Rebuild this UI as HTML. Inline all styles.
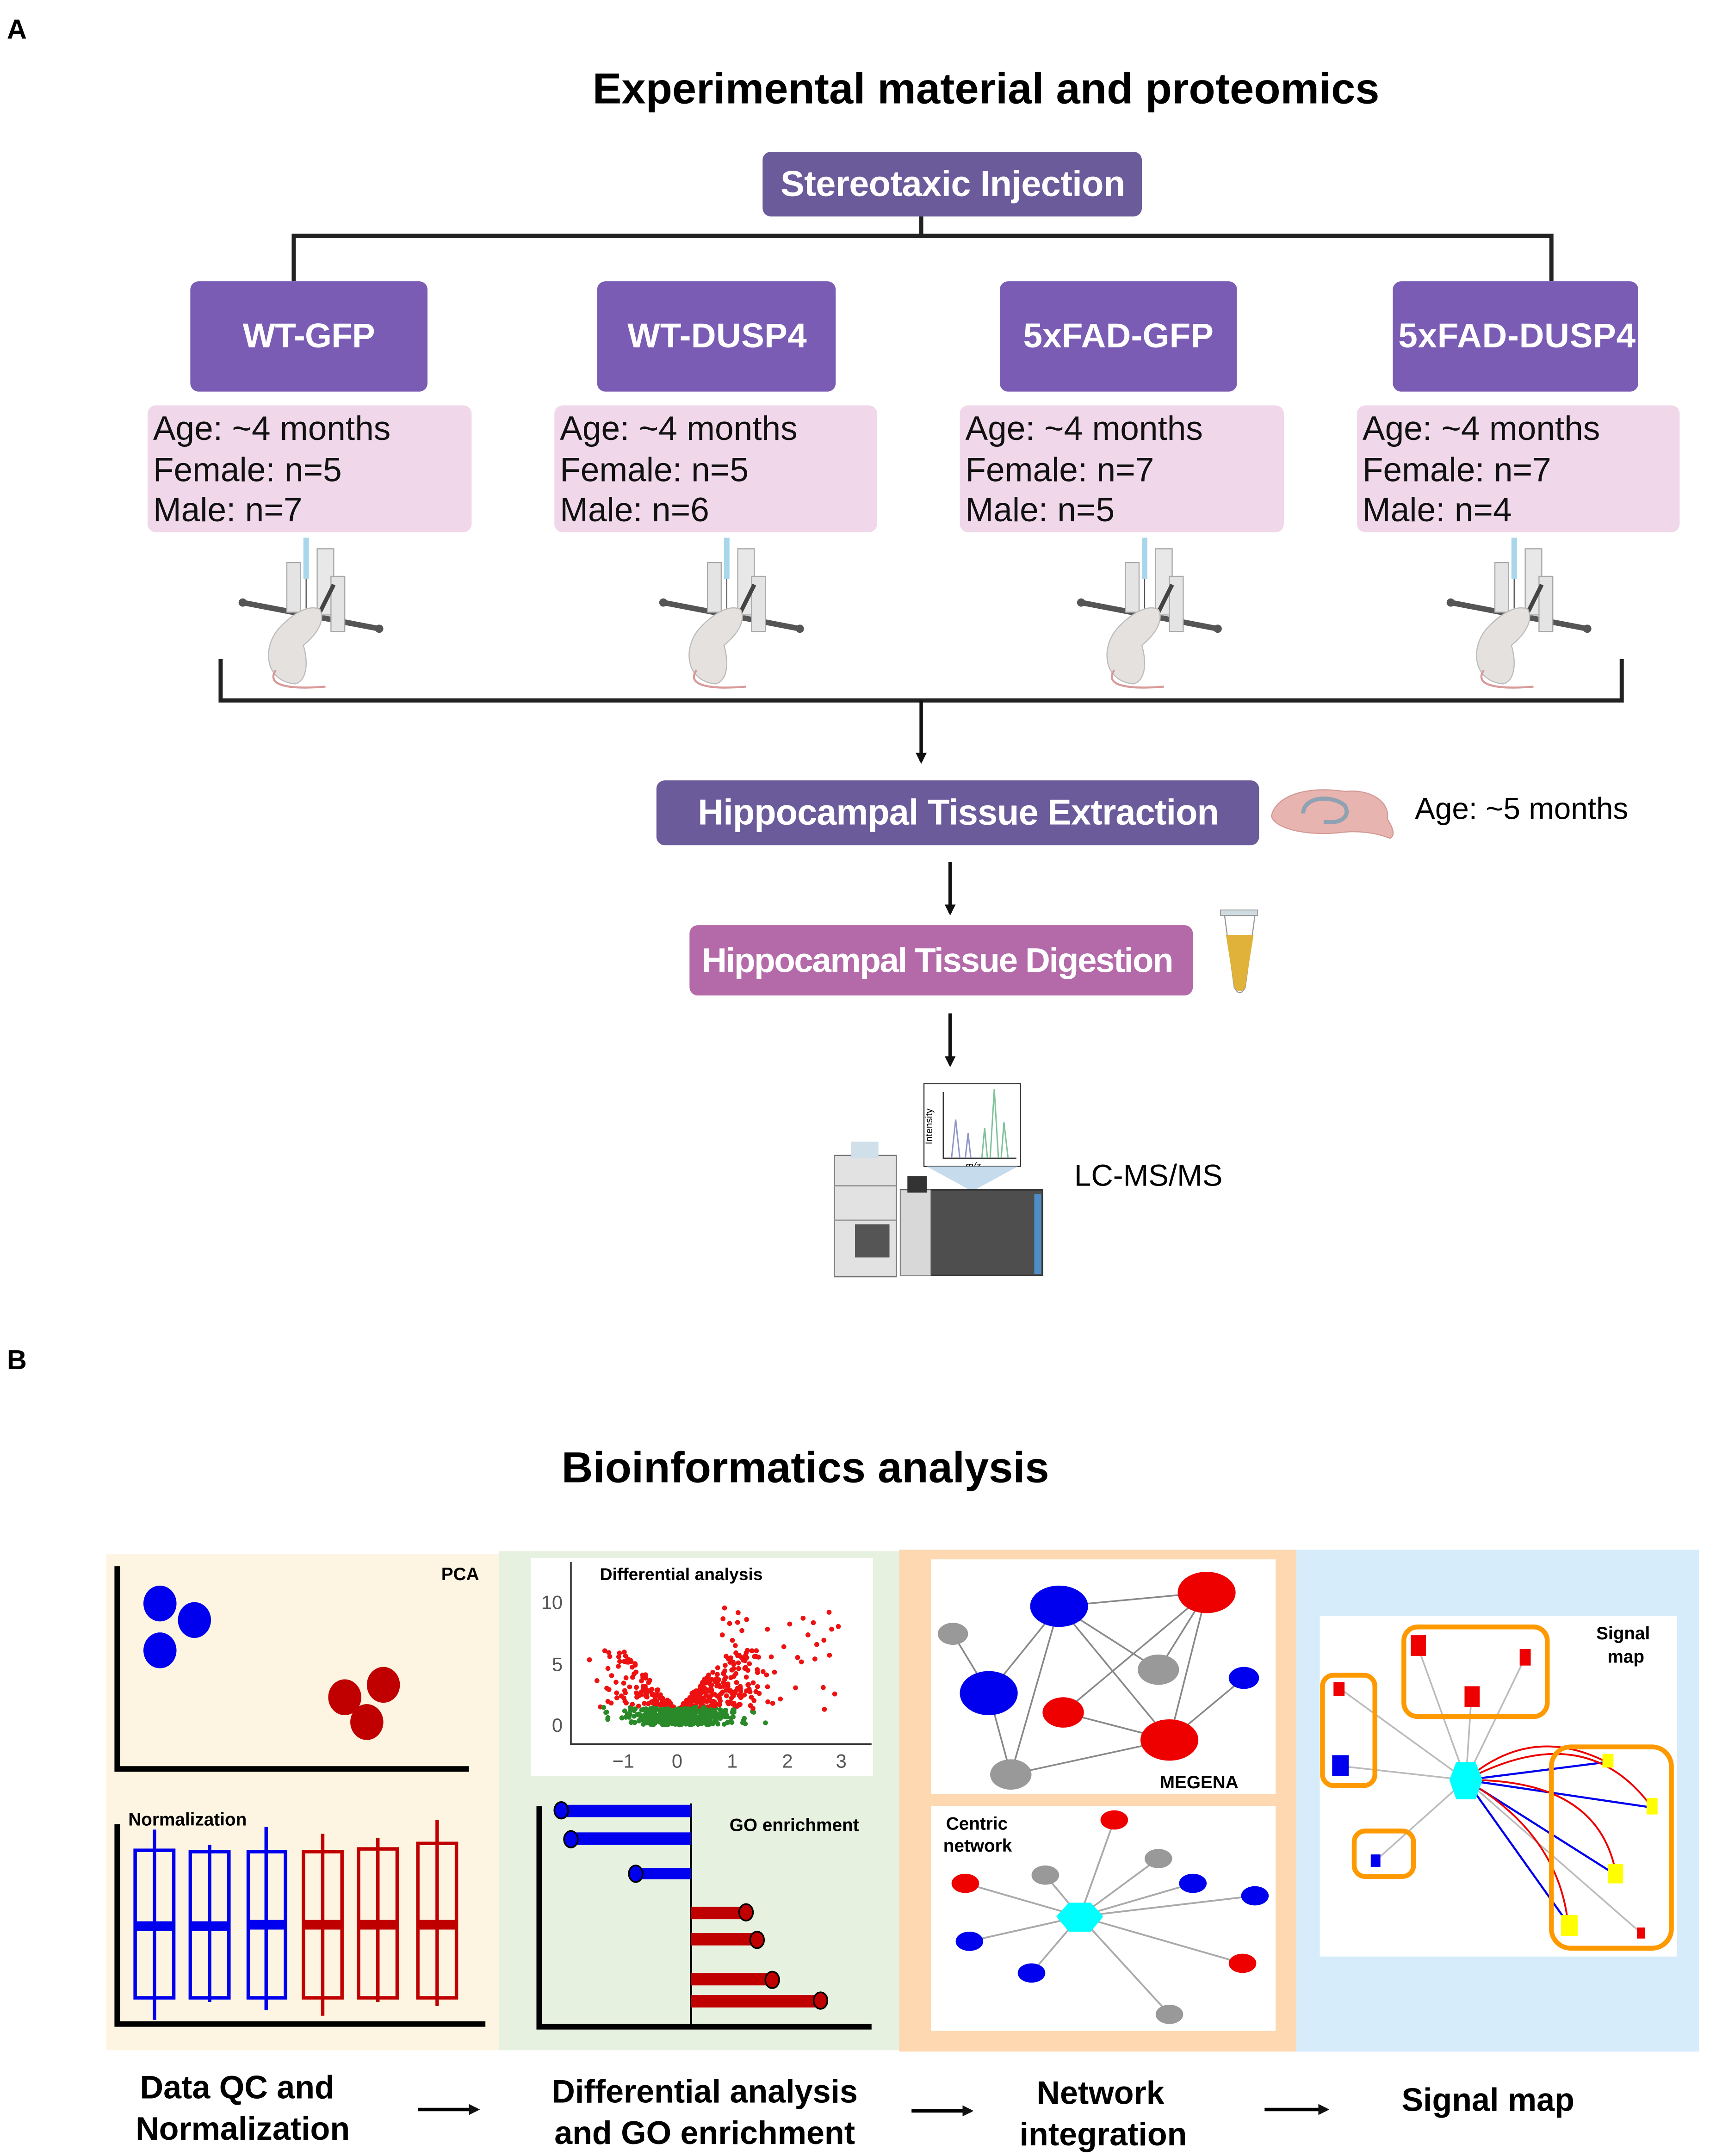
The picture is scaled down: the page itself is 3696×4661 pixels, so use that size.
<!DOCTYPE html>
<html><head><meta charset="utf-8"><style>
html,body{margin:0;padding:0;background:#fff}
svg{display:block}
text{font-family:"Liberation Sans",sans-serif}
.cond{font-family:"Liberation Sans Narrow","Liberation Sans",sans-serif;font-weight:bold;fill:#fff}
</style></head><body>
<svg xmlns="http://www.w3.org/2000/svg" width="3696" height="4661" viewBox="0 0 1240 1563.7">
<defs>
<marker id="ah" markerWidth="8" markerHeight="8" refX="6" refY="4" orient="auto" markerUnits="userSpaceOnUse"><path d="M0,0 L8,4 L0,8 z" fill="#111"/></marker>
<g id="mouse">
 <path d="M-46,47 L53,66" stroke="#555" stroke-width="4"/>
 <circle cx="-46" cy="47" r="3" fill="#555"/><circle cx="53" cy="66" r="3" fill="#555"/>
 <rect x="-14" y="18" width="10" height="36" fill="#e4e4e4" stroke="#aaa" stroke-width="0.8"/>
 <rect x="8" y="8" width="12" height="48" fill="#e8e8e8" stroke="#aaa" stroke-width="0.8"/>
 <rect x="18" y="28" width="10" height="40" fill="#e4e4e4" stroke="#aaa" stroke-width="0.8"/>
 <rect x="-2" y="0" width="4" height="30" fill="#a8d6ea"/>
 <line x1="0" y1="30" x2="0" y2="52" stroke="#555" stroke-width="0.8"/>
 <path d="M20,34 L8,58" stroke="#444" stroke-width="3"/>
 <path d="M-8,106 C-30,104 -32,80 -20,66 C-10,55 2,48 10,52 C14,60 8,70 -2,78 C2,92 0,104 -8,106 z" fill="#e4e1de" stroke="#bbb" stroke-width="0.8"/>
 <path d="M-22,96 C-30,108 -10,110 14,108" stroke="#d99a9a" stroke-width="1.5" fill="none"/>
</g>
</defs>

<text x="5" y="28" font-size="20" font-weight="bold">A</text>
<text x="715" y="75" font-size="31.5" font-weight="bold" text-anchor="middle">Experimental material and proteomics</text>

<rect x="553" y="110" width="275" height="47" rx="6" fill="#6c5b9b"/>
<text x="691" y="142" font-size="26" class="cond" text-anchor="middle" textLength="250">Stereotaxic Injection</text>

<path d="M668,157 V171 M213,204 V171 H1125 V204" stroke="#222" stroke-width="3" fill="none"/>

<g fill="#7a5cb4">
<rect x="138" y="204" width="172" height="80" rx="6"/>
<rect x="433" y="204" width="173" height="80" rx="6"/>
<rect x="725" y="204" width="172" height="80" rx="6"/>
<rect x="1010" y="204" width="178" height="80" rx="6"/>
</g>
<g font-size="25" class="cond" text-anchor="middle">
<text x="224" y="252" textLength="96">WT-GFP</text>
<text x="520" y="252" textLength="130">WT-DUSP4</text>
<text x="811" y="252" textLength="138">5xFAD-GFP</text>
<text x="1100" y="252" textLength="172">5xFAD-DUSP4</text>
</g>

<g fill="#f0d8ea">
<rect x="107" y="294" width="235" height="92" rx="6"/>
<rect x="402" y="294" width="234" height="92" rx="6"/>
<rect x="696" y="294" width="235" height="92" rx="6"/>
<rect x="984" y="294" width="234" height="92" rx="6"/>
</g>
<g font-size="24.5" fill="#111">
<text x="111" y="319">Age: ~4 months</text><text x="111" y="349">Female: n=5</text><text x="111" y="378">Male: n=7</text>
<text x="406" y="319">Age: ~4 months</text><text x="406" y="349">Female: n=5</text><text x="406" y="378">Male: n=6</text>
<text x="700" y="319">Age: ~4 months</text><text x="700" y="349">Female: n=7</text><text x="700" y="378">Male: n=5</text>
<text x="988" y="319">Age: ~4 months</text><text x="988" y="349">Female: n=7</text><text x="988" y="378">Male: n=4</text>
</g>

<use href="#mouse" x="222" y="390"/>
<use href="#mouse" x="527" y="390"/>
<use href="#mouse" x="830" y="390"/>
<use href="#mouse" x="1098" y="390"/>

<path d="M160,478 V508 H1176 V478" stroke="#222" stroke-width="3" fill="none"/>
<line x1="668" y1="508" x2="668" y2="552" stroke="#111" stroke-width="2.5" marker-end="url(#ah)"/>

<rect x="476" y="566" width="437" height="47" rx="6" fill="#6c5b9b"/>
<text x="695" y="598" font-size="26" class="cond" text-anchor="middle" textLength="378">Hippocampal Tissue Extraction</text>
<path d="M922,592 C925,576 950,570 975,574 C995,572 1008,582 1006,594 C1010,600 1012,606 1008,608 C998,604 985,602 970,604 C950,606 925,602 922,592 z" fill="#e8b4b0" stroke="#d39a96" stroke-width="0.8"/>
<path d="M945,590 C945,578 965,576 975,584 C980,592 972,598 960,596" stroke="#8ea2b3" stroke-width="3" fill="none"/>
<text x="1026" y="594" font-size="22">Age: ~5 months</text>

<line x1="689" y1="625" x2="689" y2="662" stroke="#111" stroke-width="2.5" marker-end="url(#ah)"/>
<rect x="500" y="671" width="365" height="51" rx="6" fill="#b46aa9"/>
<text x="680" y="705" font-size="25" class="cond" text-anchor="middle" textLength="342">Hippocampal Tissue Digestion</text>
<rect x="885" y="660" width="27" height="4" fill="#cfdbe0" stroke="#999" stroke-width="0.6"/>
<path d="M888,664 L910,664 L903,716 Q899,724 895,716 z" fill="#fff" stroke="#999" stroke-width="0.8"/>
<path d="M889,678 L909,678 L903,716 Q899,722 895,716 z" fill="#e0b23a"/>

<line x1="689" y1="735" x2="689" y2="772" stroke="#111" stroke-width="2.5" marker-end="url(#ah)"/>
<rect x="670" y="786" width="70" height="60" fill="#fff" stroke="#333" stroke-width="0.8"/>
<path d="M684,792 V840 H737" stroke="#333" stroke-width="0.8" fill="none"/>
<path d="M690,840 L693,812 L696,840 M700,840 L702,822 L704,840" stroke="#8d98c8" stroke-width="1" fill="none"/>
<path d="M712,840 L714,818 L716,840 M718,840 L721,790 L724,840 M726,840 L728,814 L731,840" stroke="#7fc29a" stroke-width="1" fill="none"/>
<text x="676" y="830" font-size="7" transform="rotate(-90 676 830)">Intensity</text>
<text x="700" y="848" font-size="7" font-style="italic">m/z</text>
<path d="M672,846 L738,846 L705,864 z" fill="#c6dbec"/>
<rect x="605" y="838" width="45" height="88" fill="#e2e2e2" stroke="#777" stroke-width="0.8"/>
<rect x="617" y="828" width="20" height="12" fill="#cfe0ea"/>
<line x1="605" y1="860" x2="650" y2="860" stroke="#999"/><line x1="605" y1="885" x2="650" y2="885" stroke="#999"/>
<rect x="620" y="888" width="25" height="24" fill="#555"/>
<rect x="653" y="863" width="103" height="62" fill="#4e4e4e" stroke="#333"/>
<rect x="653" y="863" width="22" height="62" fill="#d8d8d8" stroke="#888" stroke-width="0.6"/>
<rect x="750" y="866" width="5" height="58" fill="#4f8dc8"/>
<rect x="658" y="853" width="14" height="12" fill="#333"/>
<text x="779" y="860" font-size="22">LC-MS/MS</text>

<text x="5" y="993" font-size="20" font-weight="bold">B</text>
<text x="584" y="1075" font-size="31.5" font-weight="bold" text-anchor="middle">Bioinformatics analysis</text>

<rect x="77" y="1127" width="285" height="360" fill="#fdf5e1"/>
<rect x="362" y="1125" width="290" height="362" fill="#e7f1e0"/>
<rect x="652" y="1124" width="288" height="364" fill="#fdd8b0"/>
<rect x="940" y="1124" width="292" height="364" fill="#d6ecfb"/>

<path d="M85,1136 V1283 H340" stroke="#000" stroke-width="4" fill="none"/>
<text x="320" y="1146" font-size="13" font-weight="bold">PCA</text>
<g fill="#0000ee"><ellipse cx="116" cy="1163" rx="12" ry="13"/><ellipse cx="141" cy="1175" rx="12" ry="13"/><ellipse cx="116" cy="1197" rx="12" ry="13"/></g>
<g fill="#c00000"><ellipse cx="278" cy="1222" rx="12" ry="13"/><ellipse cx="250" cy="1231" rx="12" ry="13"/><ellipse cx="266" cy="1249" rx="12" ry="13"/></g>

<path d="M85,1323 V1468 H352" stroke="#000" stroke-width="4" fill="none"/>
<text x="93" y="1324" font-size="13" font-weight="bold">Normalization</text>
<g fill="none" stroke-width="2.5">
<g stroke="#0000ee">
<rect x="98" y="1342" width="28" height="107"/><line x1="112" y1="1327" x2="112" y2="1465"/><line x1="98" y1="1397" x2="126" y2="1397" stroke-width="7"/>
<rect x="138" y="1343" width="28" height="106"/><line x1="152" y1="1338" x2="152" y2="1452"/><line x1="138" y1="1397" x2="166" y2="1397" stroke-width="7"/>
<rect x="180" y="1343" width="27" height="106"/><line x1="193" y1="1325" x2="193" y2="1458"/><line x1="180" y1="1396" x2="207" y2="1396" stroke-width="7"/>
</g>
<g stroke="#c00000">
<rect x="220" y="1343" width="28" height="106"/><line x1="234" y1="1330" x2="234" y2="1462"/><line x1="220" y1="1396" x2="248" y2="1396" stroke-width="7"/>
<rect x="260" y="1341" width="28" height="108"/><line x1="274" y1="1333" x2="274" y2="1452"/><line x1="260" y1="1396" x2="288" y2="1396" stroke-width="7"/>
<rect x="303" y="1337" width="28" height="112"/><line x1="317" y1="1320" x2="317" y2="1455"/><line x1="303" y1="1396" x2="331" y2="1396" stroke-width="7"/>
</g></g>

<rect x="385" y="1130" width="248" height="158" fill="#fff"/>
<path d="M414,1133 V1265 H632" stroke="#333" stroke-width="1.2" fill="none"/>
<text x="435" y="1146" font-size="12.5" font-weight="bold">Differential analysis</text>
<g font-size="14" fill="#555" text-anchor="end"><text x="408" y="1167">10</text><text x="408" y="1212">5</text><text x="408" y="1256">0</text></g>
<g font-size="14" fill="#555" text-anchor="middle"><text x="452" y="1282">−1</text><text x="491" y="1282">0</text><text x="531" y="1282">1</text><text x="571" y="1282">2</text><text x="610" y="1282">3</text></g>
<g id="volc"></g>

<path d="M391,1310 V1470 H632" stroke="#000" stroke-width="4" fill="none"/>
<line x1="501" y1="1308" x2="501" y2="1470" stroke="#000" stroke-width="1.5"/>
<text x="529" y="1328" font-size="13" font-weight="bold">GO enrichment</text>
<g fill="#0000ee" stroke="#000" stroke-width="1.2">
<rect x="407" y="1309" width="94" height="9" stroke="none"/><ellipse cx="407" cy="1313" rx="5" ry="6"/>
<rect x="414" y="1329" width="87" height="9" stroke="none"/><ellipse cx="414" cy="1334" rx="5" ry="6"/>
<rect x="461" y="1355" width="40" height="8" stroke="none"/><ellipse cx="461" cy="1359" rx="5" ry="6"/>
</g>
<g fill="#c00000" stroke="#000" stroke-width="1.2">
<rect x="501" y="1383" width="40" height="9" stroke="none"/><ellipse cx="541" cy="1387" rx="5" ry="6"/>
<rect x="501" y="1402" width="48" height="9" stroke="none"/><ellipse cx="549" cy="1407" rx="5" ry="6"/>
<rect x="501" y="1431" width="59" height="9" stroke="none"/><ellipse cx="560" cy="1436" rx="5" ry="6"/>
<rect x="501" y="1447" width="94" height="9" stroke="none"/><ellipse cx="595" cy="1451" rx="5" ry="6"/>
</g>

<rect x="675" y="1131" width="250" height="170" fill="#fff"/>
<g stroke="#888" stroke-width="1.2">
<line x1="768" y1="1165" x2="875" y2="1155"/><line x1="768" y1="1165" x2="717" y2="1228"/><line x1="768" y1="1165" x2="733" y2="1287"/>
<line x1="768" y1="1165" x2="840" y2="1211"/><line x1="768" y1="1165" x2="848" y2="1262"/><line x1="875" y1="1155" x2="771" y2="1242"/>
<line x1="875" y1="1155" x2="840" y2="1211"/><line x1="875" y1="1155" x2="848" y2="1262"/><line x1="691" y1="1185" x2="717" y2="1228"/>
<line x1="717" y1="1228" x2="733" y2="1287"/><line x1="771" y1="1242" x2="848" y2="1262"/><line x1="733" y1="1287" x2="848" y2="1262"/><line x1="848" y1="1262" x2="902" y2="1217"/>
</g>
<ellipse cx="691" cy="1185" rx="11" ry="8" fill="#999"/>
<ellipse cx="768" cy="1165" rx="21" ry="15" fill="#0000ee"/>
<ellipse cx="875" cy="1155" rx="21" ry="15" fill="#ee0000"/>
<ellipse cx="840" cy="1211" rx="15" ry="11" fill="#999"/>
<ellipse cx="902" cy="1217" rx="11" ry="8" fill="#0000ee"/>
<ellipse cx="717" cy="1228" rx="21" ry="16" fill="#0000ee"/>
<ellipse cx="771" cy="1242" rx="15" ry="11" fill="#ee0000"/>
<ellipse cx="848" cy="1262" rx="21" ry="15" fill="#ee0000"/>
<ellipse cx="733" cy="1287" rx="15" ry="11" fill="#999"/>
<text x="841" y="1297" font-size="13" font-weight="bold">MEGENA</text>

<rect x="675" y="1310" width="250" height="163" fill="#fff"/>
<text x="686" y="1327" font-size="13" font-weight="bold">Centric</text>
<text x="684" y="1343" font-size="13" font-weight="bold">network</text>
<g stroke="#aaa" stroke-width="1.3">
<line x1="783" y1="1390" x2="808" y2="1320"/><line x1="783" y1="1390" x2="840" y2="1348"/><line x1="783" y1="1390" x2="758" y2="1360"/>
<line x1="783" y1="1390" x2="700" y2="1366"/><line x1="783" y1="1390" x2="865" y2="1366"/><line x1="783" y1="1390" x2="910" y2="1375"/>
<line x1="783" y1="1390" x2="703" y2="1408"/><line x1="783" y1="1390" x2="748" y2="1431"/><line x1="783" y1="1390" x2="901" y2="1424"/><line x1="783" y1="1390" x2="848" y2="1461"/>
</g>
<ellipse cx="808" cy="1320" rx="10" ry="7" fill="#ee0000"/>
<ellipse cx="840" cy="1348" rx="10" ry="7" fill="#999"/>
<ellipse cx="758" cy="1360" rx="10" ry="7" fill="#999"/>
<ellipse cx="700" cy="1366" rx="10" ry="7" fill="#ee0000"/>
<ellipse cx="865" cy="1366" rx="10" ry="7" fill="#0000ee"/>
<ellipse cx="910" cy="1375" rx="10" ry="7" fill="#0000ee"/>
<ellipse cx="703" cy="1408" rx="10" ry="7" fill="#0000ee"/>
<ellipse cx="748" cy="1431" rx="10" ry="7" fill="#0000ee"/>
<ellipse cx="901" cy="1424" rx="10" ry="7" fill="#ee0000"/>
<ellipse cx="848" cy="1461" rx="10" ry="7" fill="#999"/>
<polygon points="775,1380 791,1380 800,1390 791,1401 775,1401 766,1390" fill="#00ffff"/>

<rect x="957" y="1172" width="259" height="247" fill="#fff"/>
<text x="1177" y="1189" font-size="13" font-weight="bold" text-anchor="middle">Signal</text>
<text x="1179" y="1206" font-size="13" font-weight="bold" text-anchor="middle">map</text>
<g stroke="#bbb" stroke-width="1.2">
<line x1="1063" y1="1291" x2="972" y2="1225"/><line x1="1063" y1="1291" x2="973" y2="1281"/><line x1="1063" y1="1291" x2="1028" y2="1194"/>
<line x1="1063" y1="1291" x2="1067" y2="1230"/><line x1="1063" y1="1291" x2="1106" y2="1202"/><line x1="1063" y1="1291" x2="997" y2="1350"/>
<line x1="1063" y1="1291" x2="1190" y2="1402"/>
</g>
<g stroke="#0000ee" stroke-width="1.5" fill="none">
<line x1="1063" y1="1291" x2="1165" y2="1278"/><line x1="1063" y1="1291" x2="1198" y2="1311"/><line x1="1063" y1="1291" x2="1172" y2="1360"/><line x1="1063" y1="1291" x2="1137" y2="1395"/>
</g>
<g stroke="#ee0000" stroke-width="1.3" fill="none">
<path d="M1063,1291 Q1110,1250 1165,1278"/><path d="M1063,1291 Q1150,1245 1198,1311"/><path d="M1063,1291 Q1160,1290 1172,1360"/><path d="M1063,1291 Q1130,1330 1137,1395"/>
</g>
<polygon points="1056,1278 1070,1278 1075,1291 1070,1305 1056,1305 1051,1291" fill="#00ffff"/>
<g fill="none" stroke="#ff9900" stroke-width="3.5">
<rect x="1018" y="1180" width="104" height="65" rx="10"/>
<rect x="959" y="1215" width="38" height="80" rx="8"/>
<rect x="982" y="1328" width="43" height="33" rx="8"/>
<rect x="1125" y="1267" width="87" height="146" rx="14"/>
</g>
<g fill="#ee0000"><rect x="1023" y="1186" width="11" height="15"/><rect x="1102" y="1196" width="8" height="12"/><rect x="1062" y="1223" width="11" height="15"/><rect x="967" y="1220" width="8" height="10"/><rect x="1187" y="1398" width="6" height="8"/></g>
<g fill="#0000ee"><rect x="966" y="1273" width="12" height="15"/><rect x="994" y="1345" width="7" height="9"/></g>
<g fill="#ffff00"><rect x="1162" y="1272" width="8" height="10"/><rect x="1194" y="1304" width="8" height="12"/><rect x="1166" y="1352" width="11" height="14"/><rect x="1132" y="1389" width="12" height="15"/></g>

<g font-size="23.5" font-weight="bold" text-anchor="middle">
<text x="172" y="1522">Data QC and</text><text x="176" y="1552">Normalization</text>
<text x="511" y="1525">Differential analysis</text><text x="511" y="1555">and GO enrichment</text>
<text x="798" y="1526">Network</text><text x="800" y="1556">integration</text>
<text x="1079" y="1531">Signal map</text>
</g>
<g stroke="#000" stroke-width="2.5">
<line x1="303" y1="1530" x2="346" y2="1530" marker-end="url(#ah)"/>
<line x1="661" y1="1531" x2="704" y2="1531" marker-end="url(#ah)"/>
<line x1="917" y1="1530" x2="962" y2="1530" marker-end="url(#ah)"/>
</g>
</svg>
<script>
(function(){
var g=document.getElementById('volc'),s=12345,ns='http://www.w3.org/2000/svg';
function r(){s=(s*1103515245+12345)%2147483648;return s/2147483648;}
function dot(x,y,c){var e=document.createElementNS(ns,'circle');e.setAttribute('cx',x);e.setAttribute('cy',y);e.setAttribute('r',1.8);e.setAttribute('fill',c);g.appendChild(e);}
for(var i=0;i<600;i++){var fc=(r()+r()+r()-1.5)*1.3+0.15;var a=Math.abs(fc);var y=r()*(1.2+a*5);if(y>6)y=6*r()+1;var X=491+fc*40,Y=1251-y*9;dot(X,Y,y<1.4?'#2a8a2a':'#ee1111');}
for(var j=0;j<200;j++){var fc2=(r()+r()-1)*1.1;dot(491+fc2*40,1251-r()*1.3*9,'#2a8a2a');}
for(var k=0;k<45;k++){dot(520+r()*90,1165+r()*75,'#ee1111');}
for(var m=0;m<10;m++){dot(430+r()*120,1245+r()*6,'#2a8a2a');}
})();
</script>
</body></html>
